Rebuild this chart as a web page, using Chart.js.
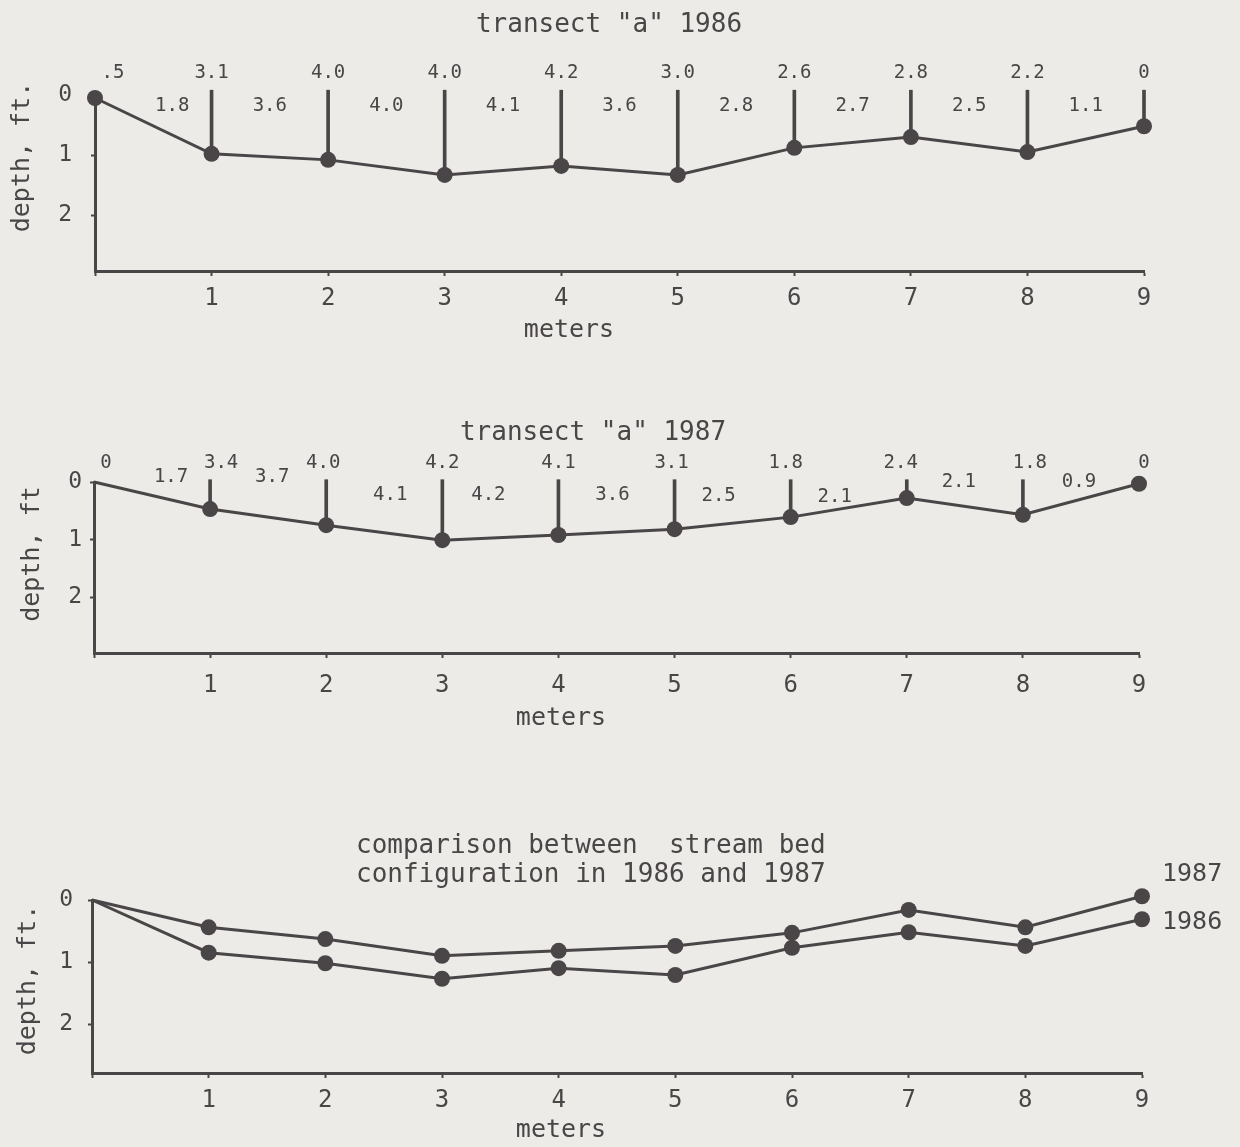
<!DOCTYPE html>
<html>
<head>
<meta charset="utf-8">
<script src="https://cdn.jsdelivr.net/npm/chart.js@4"></script>
<style>
    body { margin: 0; background: #ecebe7; }
    #wrap { position: relative; width: 1240px; height: 1147px; }
    canvas { position: absolute; left: 0; }
</style>
</head>
<body>
<div id="wrap">
    <canvas id="p1" width="1240" height="350" style="top:0px"></canvas>
    <canvas id="p2" width="1240" height="350" style="top:390px"></canvas>
    <canvas id="p3" width="1240" height="327" style="top:820px"></canvas>
</div>
<script>
        // stations along the transect, meters
        const meters = [0, 1, 2, 3, 4, 5, 6, 7, 8, 9];
        const yTicks = [0, 1, 2];

        // transect "a" 1986, depth in ft
        const depth1986 = [0.05, 0.98, 1.08, 1.33, 1.18, 1.33, 0.88, 0.70, 0.95, 0.52];
        const stationText1986 = ['.5', '3.1', '4.0', '4.0', '4.2', '3.0', '2.6', '2.8', '2.2', '0'];
        const intervalText1986 = ['1.8', '3.6', '4.0', '4.1', '3.6', '2.8', '2.7', '2.5', '1.1'];
        const stems1986 = [1, 2, 3, 4, 5, 6, 7, 8, 9];

        // transect "a" 1987
        const depth1987 = [0, 0.47, 0.75, 1.01, 0.92, 0.82, 0.61, 0.28, 0.57, 0.03];
        const stationText1987 = ['0', '3.4', '4.0', '4.2', '4.1', '3.1', '1.8', '2.4', '1.8', '0'];
        const intervalText1987 = ['1.7', '3.7', '4.1', '4.2', '3.6', '2.5', '2.1', '2.1', '0.9'];
        const stems1987 = [1, 2, 3, 4, 5, 6, 7, 8];

        // comparison panel
        const compare1987 = [0, 0.44, 0.63, 0.90, 0.82, 0.74, 0.53, 0.16, 0.44, -0.06];
        const compare1986 = [0, 0.85, 1.02, 1.27, 1.10, 1.21, 0.77, 0.52, 0.74, 0.31];

        const ink = '#4a4547';
        const mono = '"DejaVu Sans Mono", monospace';

        function pts(values) {
            return meters.map((m, i) => ({ x: m, y: values[i] }));
        }

        function lineSet(values, firstDot) {
            return {
                type: 'line',
                data: pts(values),
                borderColor: ink,
                borderWidth: 3,
                pointBackgroundColor: ink,
                pointBorderWidth: 0,
                pointRadius: ctx => (ctx.dataIndex === 0 && !firstDot) ? 0 : 8,
                tension: 0,
                clip: false,
                order: 1
            };
        }

        function stemSet(values, stations, top) {
            return {
                type: 'bar',
                data: stations.map(i => ({ x: meters[i], y: [top, values[i]] })),
                backgroundColor: ink,
                barThickness: 3,
                clip: false,
                order: 2
            };
        }

        // text drawn around the plot, placed via the scales
        const textPlugin = {
            id: 'paperText',
            afterDraw(chart) {
                const o = chart.options.plugins.paperText;
                const ctx = chart.ctx;
                const xs = chart.scales.x, ys = chart.scales.y;
                const zero = ys.getPixelForValue(0);
                ctx.save();
                ctx.fillStyle = ink;
                ctx.textBaseline = 'middle';

                ctx.font = '26px ' + mono;
                ctx.textAlign = o.titleAlign || 'center';
                o.title.forEach((t, k) => ctx.fillText(t, o.titleX, o.titleY + k * 29));

                ctx.font = '25px ' + mono;
                ctx.textAlign = 'center';
                ctx.fillText('meters', o.xTitle[0], o.xTitle[1]);
                ctx.save();
                ctx.translate(o.yTitle[0], o.yTitle[1]);
                ctx.rotate(-Math.PI / 2);
                ctx.fillText(o.yTitleText, 0, 0);
                ctx.restore();

                if (o.station) {
                    ctx.font = '19px ' + mono;
                    o.station.forEach((t, i) => {
                        const dx = (o.stationNudge[i] || 0);
                        ctx.fillText(t, xs.getPixelForValue(meters[i]) + dx, zero + o.stationRow);
                    });
                    o.interval.forEach((t, i) => {
                        const dx = (o.intervalNudge[i] || 0);
                        const row = Array.isArray(o.intervalRow) ? o.intervalRow[i] : o.intervalRow;
                        const mid = (meters[i] + meters[i + 1]) / 2;
                        ctx.fillText(t, xs.getPixelForValue(mid) + dx, zero + row);
                    });
                }

                if (o.seriesNames) {
                    ctx.font = '25px ' + mono;
                    ctx.textAlign = 'left';
                    o.seriesNames.forEach(s => {
                        const last = s.values.length - 1;
                        ctx.fillText(s.name, xs.getPixelForValue(meters[last]) + 20,
                            ys.getPixelForValue(s.values[last]) + s.dy);
                    });
                }
                ctx.restore();
            }
        };

        function makeChart(id, p) {
            return new Chart(document.getElementById(id), {
                type: 'line',
                data: { datasets: p.datasets },
                plugins: [textPlugin],
                options: {
                    responsive: false,
                    animation: false,
                    events: [],
                    layout: { padding: { top: p.area.top, right: 1240 - p.area.right, left: 0, bottom: 0 } },
                    plugins: {
                        legend: { display: false },
                        tooltip: { enabled: false },
                        paperText: p.text
                    },
                    scales: {
                        x: {
                            type: 'linear',
                            min: meters[0],
                            max: meters[meters.length - 1],
                            offset: false,
                            afterFit: s => { s.height = p.height - p.area.bottom; },
                            ticks: {
                                stepSize: 1,
                                autoSkip: false,
                                maxRotation: 0,
                                padding: p.xPad,
                                color: ink,
                                font: { family: mono, size: 24 },
                                callback: v => v === 0 ? '' : String(v)
                            },
                            grid: { offset: false, drawOnChartArea: false, tickLength: 5, tickColor: ink, tickWidth: 2 },
                            border: { color: ink, width: 3 }
                        },
                        y: {
                            type: 'linear',
                            reverse: true,
                            min: 0,
                            max: p.maxDepth,
                            afterFit: s => { s.width = p.area.left; },
                            afterBuildTicks: s => { s.ticks = yTicks.map(v => ({ value: v })); },
                            ticks: {
                                padding: p.yPad,
                                color: ink,
                                font: { family: mono, size: 23 }
                            },
                            grid: { drawOnChartArea: false, tickLength: 4, tickColor: ink, tickWidth: 2 },
                            border: { color: ink, width: 3 }
                        }
                    }
                }
            });
        }

        makeChart('p1', {
            height: 350,
            area: { left: 95, top: 95, right: 1144, bottom: 271 },
            maxDepth: 2.93,
            xPad: 8,
            yPad: 19,
            datasets: [lineSet(depth1986, true), stemSet(depth1986, stems1986, -0.08)],
            text: {
                title: ['transect "a" 1986'], titleX: 609, titleY: 25,
                xTitle: [569, 330], yTitle: [22, 157], yTitleText: 'depth, ft.',
                station: stationText1986, stationRow: -22, stationNudge: [18],
                interval: intervalText1986, intervalRow: 11, intervalNudge: [19]
            }
        });

        makeChart('p2', {
            height: 350,
            area: { left: 94, top: 92, right: 1139, bottom: 263 },
            maxDepth: 2.97,
            xPad: 13,
            yPad: 8,
            datasets: [lineSet(depth1987, false), stemSet(depth1987, stems1987, -0.04)],
            text: {
                title: ['transect "a" 1987'], titleX: 593, titleY: 43,
                xTitle: [561, 328], yTitle: [32, 164], yTitleText: 'depth, ft',
                station: stationText1987, stationRow: -19, stationNudge: [12, 11, -3, 0, 0, -3, -5, -6, 7, 5],
                interval: intervalText1987, intervalRow: [-5, -5, 13, 13, 13, 14, 15, 0, 0],
                intervalNudge: [19, 4, 6, -12, -4, -14, -14, -6, -2]
            }
        });

        makeChart('p3', {
            height: 327,
            area: { left: 92, top: 80, right: 1142, bottom: 253 },
            maxDepth: 2.79,
            xPad: 8,
            yPad: 15,
            datasets: [lineSet(compare1987, false), lineSet(compare1986, false)],
            text: {
                title: ['comparison between  stream bed', 'configuration in 1986 and 1987'],
                titleAlign: 'left', titleX: 356, titleY: 26,
                xTitle: [561, 310], yTitle: [28, 160], yTitleText: 'depth, ft.',
                seriesNames: [
                    { name: '1987', values: compare1987, dy: -22 },
                    { name: '1986', values: compare1986, dy: 3 }
                ]
            }
        });
</script>
</body>
</html>
